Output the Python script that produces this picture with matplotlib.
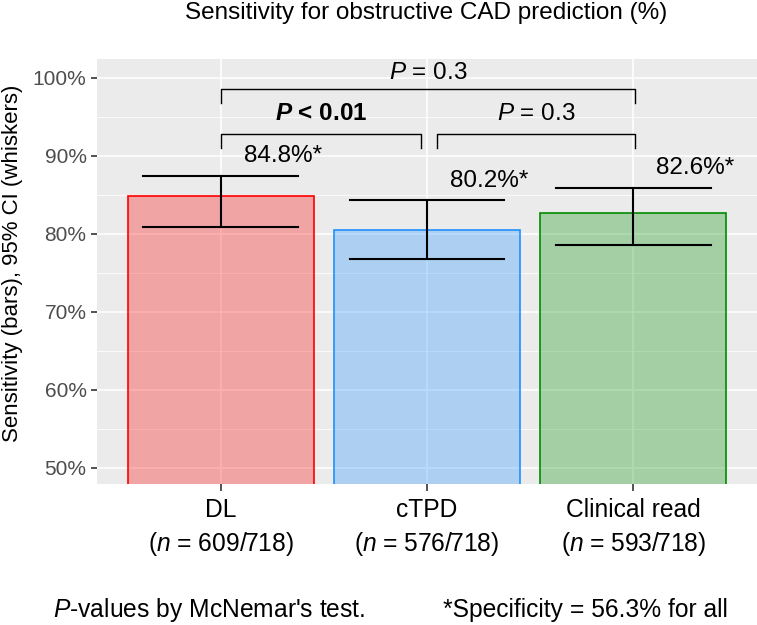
import matplotlib

matplotlib.use("Agg")
import matplotlib.pyplot as plt
import numpy as np
from matplotlib.ticker import FixedLocator

plt.rcParams["font.family"] = ["Liberation Sans", "DejaVu Sans"]
plt.rcParams["mathtext.fontset"] = "custom"
plt.rcParams["mathtext.rm"] = "Liberation Sans"
plt.rcParams["mathtext.it"] = "Liberation Sans:italic"
plt.rcParams["mathtext.bf"] = "Liberation Sans:bold"
plt.rcParams["mathtext.bfit"] = "Liberation Sans:italic:bold"

# data
methods = ["DL", "cTPD", "Clinical read"]
n_counts = ["609/718", "576/718", "593/718"]
sensitivity = [84.8, 80.5, 82.6]
ci_low = [80.8, 76.7, 78.6]
ci_high = [87.4, 84.3, 85.9]
value_labels = ["84.8%*", "80.2%*", "82.6%*"]
edge_cols = ["#FF0000", "#1E90FF", "#008B00"]

# (left idx, right idx, p-text, bold)
comparisons = [
    (0, 2, r"$\it{P}$ = 0.3", False),
    (0, 1, r"$\mathbfit{P}$ < 0.01", True),
    (1, 2, r"$\it{P}$ = 0.3", False),
]

fs = 17.5
grey_bg = "#EBEBEB"

fig = plt.figure(figsize=(7.57, 6.25), dpi=100)
ax = fig.add_axes([97 / 757, 1 - 484 / 625, 660 / 757, 425 / 625])
ax.set_facecolor(grey_bg)

x = np.arange(1, len(methods) + 1)

# grid (ggplot style)
for y in np.arange(50, 101, 10):
    ax.axhline(y, color="white", lw=1.1, zorder=0)
for y in np.arange(55, 100, 10):
    ax.axhline(y, color="white", lw=0.55, zorder=0)
for xi in x:
    ax.axvline(xi, color="white", lw=1.1, zorder=0)

for xi, s, c in zip(x, sensitivity, edge_cols):
    ax.bar(xi, s - 40, bottom=40, width=0.9, color=c, alpha=0.3, lw=0, zorder=1)
    ax.bar(xi, s - 40, bottom=40, width=0.9, fill=False, edgecolor=c, lw=1.2, zorder=2)

err_w = 0.375
for xi, lo, hi in zip(x, ci_low, ci_high):
    ax.plot([xi, xi], [lo, hi], color="black", lw=1.5, zorder=3)
    ax.plot([xi - err_w, xi + err_w], [lo, lo], color="black", lw=1.5, zorder=3)
    ax.plot([xi - err_w, xi + err_w], [hi, hi], color="black", lw=1.5, zorder=3)

for xi, hi, lab in zip(x, ci_high, value_labels):
    ax.text(xi + 0.3, hi + 2.5, lab, ha="center", va="center", fontsize=fs, zorder=4)

# significance brackets
for i, j, ptxt, bold in comparisons:
    if j - i == 2:
        x0, x1, ytop, ybot, ytxt = x[i], x[j] + 0.01, 98.5, 96.8, 100.6
    elif i == 0:
        x0, x1, ytop, ybot, ytxt = x[i], x[j] - 0.03, 92.8, 91.0, 95.4
    else:
        x0, x1, ytop, ybot, ytxt = x[i] + 0.05, x[j] + 0.01, 92.8, 91.0, 95.4
    ax.plot([x0, x0, x1, x1], [ybot, ytop, ytop, ybot], color="black", lw=1.0, zorder=3)
    ax.text((x0 + x1) / 2, ytxt, ptxt, ha="center", va="center", fontsize=fs,
            fontweight="bold" if bold else "normal", zorder=4)

ax.set_xlim(0.4, 3.6)
ax.set_ylim(47.9, 102.4)
ax.yaxis.set_major_locator(FixedLocator(np.arange(50, 101, 10)))
ax.set_yticklabels([f"{int(v)}%" for v in np.arange(50, 101, 10)])
ax.set_xticks(x)
ax.set_xticklabels([f"{m}\n($\\it{{n}}$ = {c})" for m, c in zip(methods, n_counts)],
                   fontsize=17.7, linespacing=1.37)
ax.tick_params(axis="y", labelsize=15, colors="#333333", labelcolor="#4D4D4D", length=4, width=1.2)
ax.tick_params(axis="x", colors="#333333", labelcolor="black", length=5, width=1.2, pad=5)
for sp in ax.spines.values():
    sp.set_visible(False)

ax.set_ylabel("Sensitivity (bars), 95% CI (whiskers)", fontsize=16)
ax.yaxis.set_label_coords(-74 / 660, 0.52)

fig.text(426 / 757, 1 - 13 / 625, "Sensitivity for obstructive CAD prediction (%)", ha="center",
         va="center", fontsize=17.5)
fig.text(53 / 757, 1 - 610 / 625, r"$\it{P}$-values by McNemar's test.", ha="left",
         va="center", fontsize=17.7)
fig.text(728 / 757, 1 - 610 / 625, "*Specificity = 56.3% for all", ha="right",
         va="center", fontsize=17.7)

fig.savefig("out.png", dpi=100)
plt.close()
